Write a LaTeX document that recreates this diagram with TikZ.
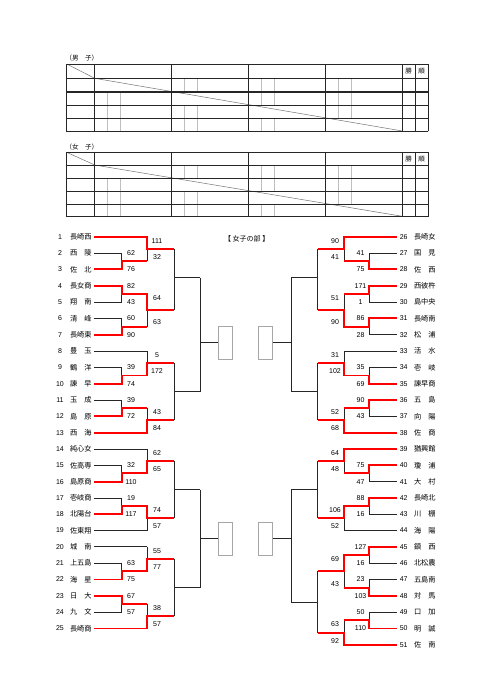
\documentclass[tikz,border=0pt]{standalone}
\usepackage{fontspec}
\setmainfont{Liberation Sans}
\newfontfamily\jp{Noto Sans CJK JP}

\begin{document}
\begin{tikzpicture}[x=1pt, y=-1pt,
    line/.style={black!85, line width=0.85pt},
    win/.style={red, line width=1.9pt, line join=miter},
    grid/.style={black!85, line width=0.9pt, line cap=rect},
    sub/.style={black!25, line width=0.5pt},
    diag/.style={black!55, line width=0.5pt},
    num/.style={inner sep=0pt, font=\fontsize{7}{8}\selectfont},
    score/.style={inner sep=0pt, font=\fontsize{7}{8}\selectfont},
    team/.style={inner sep=0pt, anchor=west, font=\jp\fontsize{7.2}{8}\selectfont},
    jlab/.style={inner sep=0pt, font=\jp\fontsize{6.5}{7}\selectfont},
    final/.style={draw=black!35, line width=0.6pt, inner sep=0pt,
      minimum width=14pt, minimum height=32.6pt}]
  \useasboundingbox (0,0) rectangle (481,680);

  % tabelas de liga
  \node[jlab, anchor=west] (mlab) at (65.5,58.3) {（男　子）};
  \node[jlab, anchor=west] (wlab) at (65.5,146.7) {（女　子）};
  \foreach \tn/\ya/\yb/\yc/\yd/\ye/\yf in
      {m/64/78.3/92/105/118/131, w/152.3/165/178.3/191.7/204/216.3} {
    % linhas finas nas celulas
    \foreach \k/\ra/\rb in {1/\yb/\yc, 2/\yc/\yd, 3/\yd/\ye, 4/\ye/\yf}
      \foreach \j/\xa in {1/94.7, 2/171.7, 3/248.3, 4/325.7} {
        \ifnum\j=\k\else
          \draw[sub] (\xa+13,\ra) -- (\xa+13,\rb) (\xa+25.6,\ra) -- (\xa+25.6,\rb);
        \fi
      }
    \draw[diag] (66.7,\ya) -- (94.7,\yb) -- (402.3,\yf);
    \foreach \y in {\ya,\yb,\yc,\yd,\ye,\yf}
      \draw[grid] (66.7,\y) -- (428,\y);
    \foreach \x in {66.7,94.7,171.7,248.3,325.7,402.3,415,428}
      \draw[grid] (\x,\ya) -- (\x,\yf);
    \node[jlab] (\tn-win) at (408.65,{(\ya+\yb)/2}) {勝};
    \node[jlab] (\tn-rank) at (421.5,{(\ya+\yb)/2}) {順};
  }
  \draw[grid, line width=1.5pt] (66.7,92) -- (428,92);

  % titulo
  \node[jlab, font=\jp\fontsize{7}{8}\selectfont] (title) at (246.7,239) {【 女子の部 】};

  \begin{scope}[y=-16.32pt, yshift=-236.8pt]
    % colunas das rodadas
    \coordinate (a0) at (94.3,0);
    \coordinate (a1) at (121.7,0);
    \coordinate (a2) at (147.3,0);
    \coordinate (b0) at (396.7,0);
    \coordinate (b1) at (369.3,0);
    \coordinate (b2) at (344,0);

    % equipes, lado esquerdo
    \foreach \n/\nm/\en in {1/長崎西/a2, 2/西　陵/a1, 3/佐　北/a1, 4/長女商/a1,
        5/翔　南/a1, 6/清　峰/a1, 7/長崎東/a1, 8/豊　玉/a2, 9/鶴　洋/a1,
        10/諫　早/a1, 11/玉　成/a1, 12/島　原/a1, 13/西　海/a2, 14/純心女/a2,
        15/佐高専/a1, 16/島原商/a1, 17/壱岐商/a1, 18/北陽台/a1, 19/佐東翔/a2,
        20/城　南/a2, 21/上五島/a1, 22/海　星/a1, 23/日　大/a1, 24/九　文/a1,
        25/長崎商/a2} {
      \node[num] (ln\n) at (60,\n-1) {\n};
      \node[team] (lt\n) at (69.8,\n-1) {\nm};
      \draw[line] (a0 |- lt\n) -- (\en |- lt\n);
    }
    % equipes, lado direito
    \foreach \n/\nm/\en in {26/長崎女/b2, 27/国　見/b1, 28/佐　西/b1, 29/西彼杵/b1,
        30/島中央/b1, 31/長崎南/b1, 32/松　浦/b1, 33/活　水/b2, 34/壱　岐/b1,
        35/諫早商/b1, 36/五　島/b1, 37/向　陽/b1, 38/佐　商/b2, 39/猶興館/b2,
        40/瓊　浦/b1, 41/大　村/b1, 42/長崎北/b1, 43/川　棚/b1, 44/海　陽/b2,
        45/鎮　西/b1, 46/北松農/b1, 47/五島南/b1, 48/対　馬/b1, 49/口　加/b1,
        50/明　誠/b1, 51/佐　南/b2} {
      \node[num] (rn\n) at (403.7,\n-26) {\n};
      \node[team] (rt\n) at (413.8,\n-26) {\nm};
      \draw[line] (b0 |- rt\n) -- (\en |- rt\n);
    }

    % chaves: x, x seguinte, y de cima, y de baixo, y de saida
    \foreach \x/\xn/\ya/\yb/\ym in {
        121.7/147.3/1/2/1.5, 121.7/147.3/3/4/3.5, 121.7/147.3/5/6/5.5,
        121.7/147.3/8/9/8.5, 121.7/147.3/10/11/10.5, 121.7/147.3/14/15/14.5,
        121.7/147.3/16/17/16.5, 121.7/147.3/20/21/20.5, 121.7/147.3/22/23/22.5,
        147.3/174/0/1.5/0.75, 147.3/174/3.5/5.5/4.5, 147.3/174/7/8.5/7.75,
        147.3/174/10.5/12/11.25, 147.3/174/13/14.5/13.75, 147.3/174/16.5/18/17.25,
        147.3/174/19/20.5/19.75, 147.3/174/22.5/24/23.25,
        174/200/0.75/4.5/2.5, 174/200/7.75/11.25/9.5,
        174/200/13.75/17.25/15.5, 174/200/19.75/23.25/21.5,
        369.3/344/1/2/1.5, 369.3/344/3/4/3.5, 369.3/344/5/6/5.5,
        369.3/344/8/9/8.5, 369.3/344/10/11/10.5, 369.3/344/14/15/14.5,
        369.3/344/16/17/16.5, 369.3/344/19/20/19.5, 369.3/344/21/22/21.5,
        369.3/344/23/24/23.5,
        344/317.7/0/1.5/0.75, 344/317.7/3.5/5.5/4.5, 344/317.7/7/8.5/7.75,
        344/317.7/10.5/12/11.25, 344/317.7/13/14.5/13.75, 344/317.7/16.5/18/17.25,
        344/317.7/19.5/21.5/20.5, 344/317.7/23.5/25/24.25,
        317.7/291/0.75/4.5/2.5, 317.7/291/7.75/11.25/9.5,
        317.7/291/13.75/17.25/15.5, 317.7/291/20.5/24.25/22.4}
      \draw[line] (\x,\ya) -- (\x,\yb) (\x,\ym) -- (\xn,\ym);

    % caixas da final
    \node[final, anchor=west] (lfin1) at (218.3,6.5) {};
    \node[final, anchor=west] (lfin2) at (218.3,18.5) {};
    \node[final, anchor=east] (rfin1) at (272.7,6.5) {};
    \node[final, anchor=east] (rfin2) at (272.7,18.5) {};
    \draw[line] (200,2.5) -- (200,9.5);
    \draw[line] (200,15.5) -- (200,21.5);
    \draw[line] (291,2.5) -- (291,9.5);
    \draw[line] (291,15.5) -- (291,22.4);
    \draw[line] (lfin1.west -| 200,0) -- (lfin1.west);
    \draw[line] (lfin2.west -| 200,0) -- (lfin2.west);
    \draw[line] (rfin1.east -| 291,0) -- (rfin1.east);
    \draw[line] (rfin2.east -| 291,0) -- (rfin2.east);

    % vencedores (vermelho), esquerda
    \draw[win] (94.3,0) -- (147.3,0) -- (147.3,0.75) -- (174,0.75);
    \draw[win] (94.3,2) -- (121.7,2) -- (121.7,1.5) -- (147.3,1.5);
    \draw[win] (94.3,3) -- (121.7,3) -- (121.7,3.5) -- (147.3,3.5) -- (147.3,4.5) -- (174,4.5);
    \draw[win] (94.3,6) -- (121.7,6) -- (121.7,5.5) -- (147.3,5.5);
    \draw[win] (94.3,9) -- (121.7,9) -- (121.7,8.5) -- (147.3,8.5) -- (147.3,7.75) -- (174,7.75);
    \draw[win] (94.3,11) -- (121.7,11) -- (121.7,10.5) -- (147.3,10.5);
    \draw[win] (94.3,12) -- (147.3,12) -- (147.3,11.25) -- (174,11.25);
    \draw[win] (94.3,15) -- (121.7,15) -- (121.7,14.5) -- (147.3,14.5) -- (147.3,13.75) -- (174,13.75);
    \draw[win] (94.3,17) -- (121.7,17) -- (121.7,16.5) -- (147.3,16.5) -- (147.3,17.25) -- (174,17.25);
    \draw[win] (94.3,21) -- (121.7,21) -- (121.7,20.5) -- (147.3,20.5) -- (147.3,19.75) -- (174,19.75);
    \draw[win] (94.3,22) -- (121.7,22) -- (121.7,22.5) -- (147.3,22.5);
    \draw[win] (94.3,24) -- (147.3,24) -- (147.3,23.25) -- (174,23.25);
    % vencedores (vermelho), direita
    \draw[win] (396.7,0) -- (344,0) -- (344,0.75) -- (317.7,0.75);
    \draw[win] (396.7,2) -- (369.3,2) -- (369.3,1.5) -- (344,1.5);
    \draw[win] (396.7,3) -- (369.3,3) -- (369.3,3.5) -- (344,3.5);
    \draw[win] (396.7,5) -- (369.3,5) -- (369.3,5.5) -- (344,5.5) -- (344,4.5) -- (317.7,4.5);
    \draw[win] (396.7,9) -- (369.3,9) -- (369.3,8.5) -- (344,8.5) -- (344,7.75) -- (317.7,7.75);
    \draw[win] (396.7,10) -- (369.3,10) -- (369.3,10.5) -- (344,10.5);
    \draw[win] (396.7,12) -- (344,12) -- (344,11.25) -- (317.7,11.25);
    \draw[win] (396.7,13) -- (344,13) -- (344,13.75) -- (317.7,13.75);
    \draw[win] (396.7,14) -- (369.3,14) -- (369.3,14.5) -- (344,14.5);
    \draw[win] (396.7,16) -- (369.3,16) -- (369.3,16.5) -- (344,16.5) -- (344,17.25) -- (317.7,17.25);
    \draw[win] (396.7,19) -- (369.3,19) -- (369.3,19.5) -- (344,19.5) -- (344,20.5) -- (317.7,20.5);
    \draw[win] (396.7,22) -- (369.3,22) -- (369.3,21.5) -- (344,21.5);
    \draw[win] (396.7,24) -- (369.3,24) -- (369.3,23.5) -- (344,23.5);
    \draw[win] (396.7,25) -- (344,25) -- (344,24.25) -- (317.7,24.25);

    % placares
    \foreach \r/\sc [count=\k] in {1/62, 2/76, 3/82, 4/43, 5/60, 6/90, 8/39, 9/74,
        10/39, 11/72, 14/32, 15/110, 16/19, 17/117, 20/63, 21/75, 22/67, 23/57}
      \node[score] (ls1-\k) at (131,\r) {\sc};
    \foreach \r/\sc [count=\k] in {0.25/111, 1.25/32, 3.75/64, 5.25/63, 7.25/5,
        8.25/172, 10.75/43, 11.75/84, 13.25/62, 14.25/65, 16.75/74, 17.75/57,
        19.25/55, 20.25/77, 22.75/38, 23.75/57}
      \node[score] (ls2-\k) at (157,\r) {\sc};
    \foreach \r/\sc [count=\k] in {1/41, 2/75, 3/171, 4/1, 5/86, 6/28, 8/35, 9/69,
        10/90, 11/43, 14/75, 15/47, 16/88, 17/16, 19/127, 20/16, 21/23, 22/103,
        23/50, 24/110}
      \node[score] (rs1-\k) at (360.5,\r) {\sc};
    \foreach \r/\sc [count=\k] in {0.25/90, 1.25/41, 3.75/51, 5.25/90, 7.25/31,
        8.25/102, 10.75/52, 11.75/68, 13.25/64, 14.25/48, 16.75/106, 17.75/52,
        19.75/69, 21.25/43, 23.75/63, 24.75/92}
      \node[score] (rs2-\k) at (335,\r) {\sc};
  \end{scope}
\end{tikzpicture}
\end{document}
